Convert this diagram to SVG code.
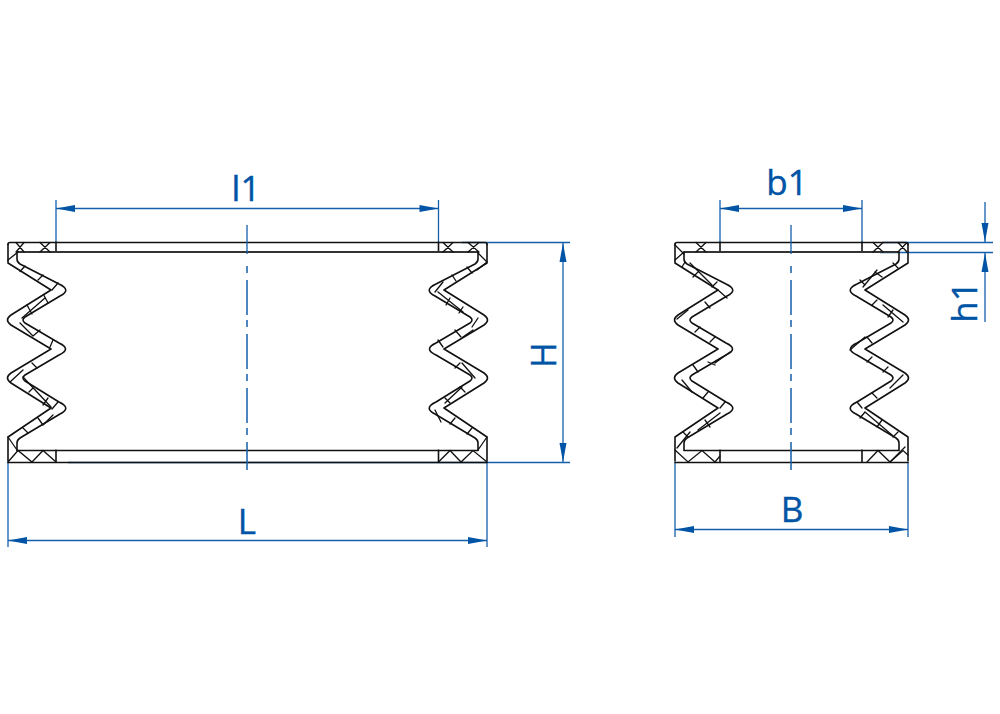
<svg xmlns="http://www.w3.org/2000/svg" width="1000" height="714" viewBox="0 0 1000 714">
<style>
.k{fill:none;stroke:#111;stroke-width:1.6;stroke-linejoin:round;stroke-linecap:round}
.g{fill:none;stroke:#333;stroke-width:1.8}
.h{fill:none;stroke:#111;stroke-width:1.3;stroke-linecap:round}
.b{fill:none;stroke:#1560ab;stroke-width:1.3}
.c{fill:none;stroke:#1560ab;stroke-width:1.5;stroke-dasharray:7 7 35 5}
.t{fill:#0054a6;stroke:#0054a6;stroke-width:.4;font-family:"Open Sans","Noto Sans",sans-serif;font-size:35px;text-anchor:middle}
</style>
<defs>
<path id="wall" class="k" d="M8 244V263L51 290L11 315Q4 320 11 325L51 349L11 373Q4 378 11 383L51 408L8 437V461M17 252V259Q17 262 20 264L59 284Q72 290 60 296L25 317Q21 320 25 323L59 343Q72 349 59 355L25 375Q21 378 25 381L59 402Q72 408 60 414L20 438Q17 440 17 443V450"/>
<path id="arr" fill="#0054a6" d="M0 0L-19 -3.500V3.500Z"/>
</defs>
<g id="connectors">
<path class="b" d="M56 200V242M438.500 200V242M56 208.500H438.500M462 242.500H570M68 462.500H570M563 242V462M8 462V547M487 462V547M8 540.500H487"/>
<path class="b" d="M720 200V242M862 200V242M720 208.500H862M883 242.500H993M880 252.500H993M985 202V242M985 252V322M675 462V537M908 462V537M675 529.500H908"/>
<use href="#arr" transform="translate(438.500 208.500)"/>
<use href="#arr" transform="translate(56 208.500) rotate(180)"/>
<use href="#arr" transform="translate(563 462) rotate(90)"/>
<use href="#arr" transform="translate(563 243) rotate(-90)"/>
<use href="#arr" transform="translate(487 540.500)"/>
<use href="#arr" transform="translate(8 540.500) rotate(180)"/>
<use href="#arr" transform="translate(862 208.500)"/>
<use href="#arr" transform="translate(720 208.500) rotate(180)"/>
<use href="#arr" transform="translate(985 242) rotate(90)"/>
<use href="#arr" transform="translate(985 253) rotate(-90)"/>
<use href="#arr" transform="translate(908 529.500)"/>
<use href="#arr" transform="translate(675 529.500) rotate(180)"/>
</g>
<g id="body-l">
<path class="k" d="M8 244.500Q8 242.500 10 242.500H485Q487 242.500 487 244.500M8 462.500H487M17 450.500H478M56 242V252M438.500 242V252M56 450V462M438.500 450V462"/>
<path class="g" d="M17 252H478"/>
<path class="h" d="M16 242.500L24 252M24 242.500L16 252M40 242.500L50 252M50 242.500L40 252M8 462L18 450.500L32 462L43 450.500L56 462M443 242.500L453 252M453 242.500L443 252M468 242.500L479 252M479 242.500L468 252M438.500 462L450 450.500L461 462L473 450.500L487 462"/>
<use href="#wall"/>
<path class="h" d="M8 260L18 252M25 266L20 271.500M43 275L38 280M58 283L52 290M44 295.500L48 303M45 298L22 318M27 305L32 314M20 323L33 336M40 330L33 336M53 340L50 347M32 363L37 368M10 382L23 370M33 388L29 392M23 377L51 407M48 398L43 405M58 402L52 409M53 415L43 425M38 418L43 425M23 428L28 433M8 437L17 450"/>
<g transform="translate(495 0) scale(-1 1)"><use href="#wall"/></g>
<path class="h" d="M478 253L487 262M487 262L477 270M467 267L472 273M452 275L456 281M443 282L435 292M438 292L463 312M450 298L446 305M463 307L459 313M478 318L472 327M473 330L463 337M455 330L461 337M438 340L443 347M460 363L455 368M462 363L475 378M462 387L445 403M460 387L465 392M445 398L450 403M435 410L441 422M455 418L450 424M472 428L467 434M487 437L478 450"/>
</g>
<g id="body-r">
<path class="k" d="M675 244.500Q675 242.500 677 242.500H906Q908 242.500 908 244.500M675 462.500H908M684 450.500H899M720 242V252M862 242V252M720 450V462M862 450V462"/>
<path class="g" d="M684 252H899"/>
<path class="h" d="M696 242.500L706 252M706 242.500L696 252M873 242.500L883 252M883 242.500L873 252M898 242.500L907 252M907 242.500L898 252M675 450L688 462L702 450.500L715 462L720 456M867 462L878 450.500L890 462L903 450.500L908 455"/>
<g transform="translate(667 0)"><use href="#wall"/></g>
<path class="h" d="M675 245L684 254M675 260L684 252M685 262L682 267M690 263L712 285M698 272L693 277M717 282L712 287M727 298L718 290M705 302L710 308M677 319L688 310M700 327L695 332M715 337L710 342M730 352L715 363M708 362L715 365M693 365L698 372M682 380L692 392M708 392L703 398M725 402L720 408M720 413L698 430M705 420L710 427M683 432L688 437M677 448L690 432"/>
<g transform="translate(916 0) scale(-1 1)"><use href="#wall"/></g>
<path class="h" d="M893 263L898 268M877 270L863 287M875 272L882 277M860 280L865 285M877 300L872 305M883 305L903 322M893 310L888 317M867 337L872 343M850 350L865 337M872 357L867 362M888 367L883 372M903 375L890 388M872 393L877 398M857 402L862 408M865 412L860 418M865 412L892 435M882 420L877 427M898 432L893 437M905 447L890 462"/>
</g>
<g id="centerlines">
<path class="b" stroke-width="1.5" d="M247 225V254M791 225V254"/>
<path class="c" d="M247 266V470M791 266V470"/>
</g>
<g id="labels">
<text class="t" x="246" y="201">l1</text>
<text class="t" x="787" y="195">b1</text>
<text class="t" x="247" y="534">L</text>
<text class="t" x="792" y="522">B</text>
<text class="t" transform="translate(556 355) rotate(-90)">H</text>
<text class="t" transform="translate(977 302) rotate(-90)">h1</text>
</g>
</svg>
